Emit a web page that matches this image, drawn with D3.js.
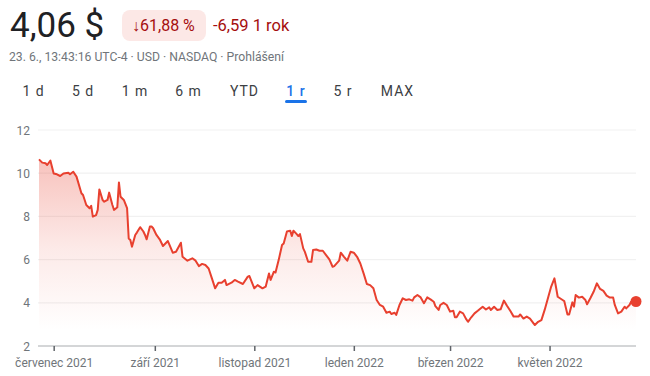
<!DOCTYPE html>
<html>
<head>
<meta charset="utf-8">
<script src="https://cdn.jsdelivr.net/npm/d3@7"></script>
<style>
  body { margin: 0; background: #fff; }
  svg { display: block; font-family: Roboto, Arial, sans-serif; }
</style>
</head>
<body>
<svg width="650" height="376"></svg>
<script>
// price data (date, close in USD)
const dates = [
  '2021-06-22','2021-06-24','2021-06-26','2021-06-27','2021-06-29','2021-07-01','2021-07-03','2021-07-05',
  '2021-07-07','2021-07-10','2021-07-11','2021-07-13','2021-07-15','2021-07-18','2021-07-19','2021-07-21',
  '2021-07-23','2021-07-24','2021-07-25','2021-07-27','2021-07-28','2021-07-29','2021-07-31','2021-08-01',
  '2021-08-03','2021-08-04','2021-08-06','2021-08-07','2021-08-09','2021-08-10','2021-08-11','2021-08-13',
  '2021-08-15','2021-08-16','2021-08-17','2021-08-18','2021-08-20','2021-08-21','2021-08-23','2021-08-25',
  '2021-08-26','2021-08-27','2021-08-29','2021-08-30','2021-08-31','2021-09-02','2021-09-04','2021-09-06',
  '2021-09-09','2021-09-10','2021-09-12','2021-09-14','2021-09-17','2021-09-18','2021-09-21','2021-09-24',
  '2021-09-26','2021-09-28','2021-09-30','2021-10-02','2021-10-04','2021-10-06','2021-10-08','2021-10-10',
  '2021-10-12','2021-10-14','2021-10-15','2021-10-18','2021-10-20','2021-10-22','2021-10-25','2021-10-28',
  '2021-10-29','2021-11-01','2021-11-03','2021-11-06','2021-11-08','2021-11-10','2021-11-11','2021-11-13',
  '2021-11-14','2021-11-16','2021-11-18','2021-11-19','2021-11-21','2021-11-23','2021-11-24','2021-11-25',
  '2021-11-27','2021-11-28','2021-11-29','2021-12-01','2021-12-02','2021-12-04','2021-12-06','2021-12-07',
  '2021-12-09','2021-12-11','2021-12-13','2021-12-15','2021-12-17','2021-12-19','2021-12-20','2021-12-23',
  '2021-12-24','2021-12-26','2021-12-28','2021-12-30','2022-01-01','2022-01-03','2022-01-05','2022-01-07',
  '2022-01-09','2022-01-11','2022-01-13','2022-01-15','2022-01-17','2022-01-19','2022-01-21','2022-01-23',
  '2022-01-24','2022-01-26','2022-01-27','2022-01-29','2022-01-31','2022-02-02','2022-02-04','2022-02-06',
  '2022-02-07','2022-02-09','2022-02-11','2022-02-13','2022-02-15','2022-02-17','2022-02-19','2022-02-20',
  '2022-02-22','2022-02-23','2022-02-25','2022-02-27','2022-03-01','2022-03-03','2022-03-04','2022-03-05',
  '2022-03-07','2022-03-09','2022-03-11','2022-03-12','2022-03-14','2022-03-16','2022-03-18','2022-03-21',
  '2022-03-23','2022-03-25','2022-03-26','2022-03-28','2022-03-30','2022-04-01','2022-04-03','2022-04-05',
  '2022-04-07','2022-04-09','2022-04-12','2022-04-13','2022-04-15','2022-04-17','2022-04-19','2022-04-22',
  '2022-04-24','2022-04-26','2022-04-28','2022-04-30','2022-05-02','2022-05-04','2022-05-05','2022-05-06',
  '2022-05-09','2022-05-10','2022-05-12','2022-05-13','2022-05-15','2022-05-16','2022-05-17','2022-05-19',
  '2022-05-21','2022-05-23','2022-05-24','2022-05-26','2022-05-28','2022-05-30','2022-06-01','2022-06-03',
  '2022-06-05','2022-06-07','2022-06-09','2022-06-10','2022-06-12','2022-06-14','2022-06-16','2022-06-17',
  '2022-06-19','2022-06-20','2022-06-23'
];
const prices = [
  10.64,10.49,10.46,10.38,10.58,9.99,9.95,9.87,
  9.99,10.02,9.95,10.07,9.84,9.07,8.99,8.53,
  8.38,8.49,7.99,8.06,8.30,9.25,8.76,8.68,
  8.76,9.10,8.53,8.30,8.42,9.57,8.91,8.76,
  8.38,6.98,6.91,6.60,7.14,7.25,7.50,7.30,
  7.14,6.94,7.53,7.53,7.45,7.14,6.94,6.63,
  6.86,6.68,6.32,6.36,6.78,6.13,5.95,6.06,
  5.95,5.70,5.80,5.75,5.59,5.13,4.67,4.93,
  4.93,5.06,4.82,4.93,5.06,4.98,4.87,5.21,
  5.24,4.67,4.82,4.67,4.75,5.36,5.06,5.44,
  5.40,6.00,6.68,6.75,7.30,7.34,7.09,7.34,
  7.18,7.09,7.18,6.52,6.36,5.90,5.90,6.44,
  6.47,6.41,6.41,6.21,6.01,5.67,5.70,5.95,
  6.32,6.13,5.95,6.36,6.32,6.13,5.82,5.36,
  4.87,4.82,4.67,4.13,3.90,3.82,3.54,3.59,
  3.48,3.54,3.44,3.90,4.21,4.13,4.16,4.10,
  4.25,4.36,4.25,3.98,4.25,4.16,4.05,3.85,
  3.67,3.90,4.00,3.90,3.59,3.63,3.33,3.33,
  3.59,3.51,3.23,3.12,3.33,3.51,3.63,3.82,
  3.69,3.79,3.67,3.82,3.67,3.70,4.10,3.85,
  3.62,3.36,3.36,3.46,3.27,3.36,3.27,2.97,
  3.12,3.20,3.67,4.21,4.75,5.13,4.71,4.28,
  4.13,4.08,3.46,3.46,4.02,3.82,4.36,4.24,
  4.28,4.13,3.93,4.21,4.51,4.90,4.64,4.55,
  4.33,4.24,4.24,3.90,3.51,3.59,3.82,3.74,
  3.90,4.05,4.06
];
const yTicks = [2, 4, 6, 8, 10, 12];
const monthNames = ['leden','únor','březen','duben','květen','červen',
  'červenec','srpen','září','říjen','listopad','prosinec'];
const ranges = ['1 d', '5 d', '1 m', '6 m', 'YTD', '1 r', '5 r', 'MAX'];
const rangeX = [33.5, 83, 135, 188.5, 244.5, 296, 343, 397.5];
const activeRange = '1 r';

const parse = d3.timeParse('%Y-%m-%d');
const data = dates.map((d, i) => ({ date: parse(d), value: prices[i] }));

const svg = d3.select('svg');
const red = '#e8402f';

// header
svg.append('text').attr('x', 10).attr('y', 37)
  .attr('font-size', 35).attr('fill', '#202124').text('4,06 $');

svg.append('rect').attr('x', 122).attr('y', 10).attr('width', 84).attr('height', 31)
  .attr('rx', 8).attr('fill', '#fce8e6');
svg.append('text').attr('x', 132).attr('y', 31)
  .attr('font-size', 16).attr('fill', '#a50e0e').text('↓61,88 %');
svg.append('text').attr('x', 213).attr('y', 31)
  .attr('font-size', 16.5).attr('fill', '#a50e0e').text('-6,59 1 rok');

svg.append('text').attr('x', 9).attr('y', 61)
  .attr('font-size', 12.2).attr('fill', '#70757a')
  .text('23. 6., 13:43:16 UTC-4 · USD · NASDAQ · Prohlášení');

svg.append('g').selectAll('text').data(ranges).enter().append('text')
  .attr('x', (d, i) => rangeX[i]).attr('y', 96)
  .attr('text-anchor', 'middle').attr('font-size', 14)
  .attr('letter-spacing', 1)
  .attr('font-weight', d => d === activeRange ? 500 : 400)
  .attr('fill', d => d === activeRange ? '#1a73e8' : '#3c4043')
  .text(d => d);
const ai = ranges.indexOf(activeRange);
svg.append('rect').attr('x', rangeX[ai] - 11).attr('y', 100)
  .attr('width', 22).attr('height', 3).attr('rx', 1.5).attr('fill', '#1a73e8');

// chart
const x = d3.scaleTime()
  .domain([parse('2021-06-22'), parse('2022-06-23')])
  .range([39, 636]);
const y = d3.scaleLinear().domain([2, 12]).range([346, 130]);

svg.append('g').selectAll('line').data(yTicks.filter(d => d > 2)).enter().append('line')
  .attr('x1', 38).attr('x2', 636)
  .attr('y1', d => y(d)).attr('y2', d => y(d))
  .attr('stroke', '#f1f1f1').attr('stroke-width', 1.2);

svg.append('g').selectAll('text').data(yTicks).enter().append('text')
  .attr('x', 30).attr('y', d => y(d) + 4.5)
  .attr('text-anchor', 'end').attr('font-size', 12).attr('fill', '#70757a')
  .text(d => d);

const defs = svg.append('defs');
const grad = defs.append('linearGradient').attr('id', 'fillGrad')
  .attr('gradientUnits', 'userSpaceOnUse')
  .attr('x1', 0).attr('x2', 0).attr('y1', 150).attr('y2', 330);
grad.append('stop').attr('offset', 0).attr('stop-color', red).attr('stop-opacity', 0.34);
grad.append('stop').attr('offset', 0.55).attr('stop-color', red).attr('stop-opacity', 0.11);
grad.append('stop').attr('offset', 1).attr('stop-color', red).attr('stop-opacity', 0);

const area = d3.area().x(d => x(d.date)).y0(y(2)).y1(d => y(d.value));
svg.append('path').datum(data).attr('d', area).attr('fill', 'url(#fillGrad)');

const line = d3.line().x(d => x(d.date)).y(d => y(d.value));
svg.append('path').datum(data).attr('d', line)
  .attr('fill', 'none').attr('stroke', red).attr('stroke-width', 2)
  .attr('stroke-linejoin', 'round');

// x axis
const xAxis = d3.axisBottom(x)
  .ticks(d3.timeMonth.every(2))
  .tickSize(5)
  .tickFormat(d => monthNames[d.getMonth()] + ' ' + d.getFullYear());
const gx = svg.append('g').attr('transform', 'translate(0,346)').call(xAxis);
gx.select('.domain').attr('d', 'M38,0H636').attr('stroke', '#a9acaf');
gx.selectAll('.tick line').attr('stroke', '#5f6368').attr('stroke-width', 1.5);
gx.selectAll('.tick text').attr('font-size', 12).attr('fill', '#70757a')
  .attr('font-family', 'Roboto, Arial, sans-serif').attr('dy', '1.1em');

const last = data[data.length - 1];
svg.append('circle').attr('cx', x(last.date)).attr('cy', y(last.value))
  .attr('r', 5.5).attr('fill', red);
</script>
</body>
</html>
